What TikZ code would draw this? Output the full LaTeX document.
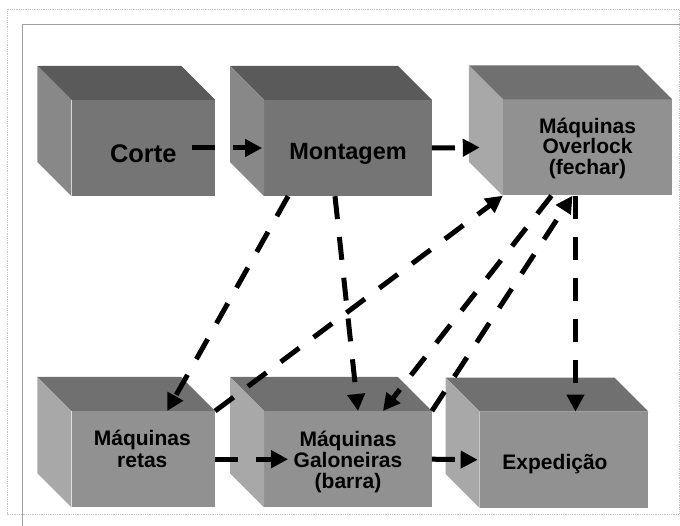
\documentclass[tikz,border=0pt]{standalone}
\usepackage{fontspec}
\setmainfont{Liberation Sans}
\usetikzlibrary{arrows.meta}
\definecolor{esctopo}{HTML}{5A5A5A}
\definecolor{esclado}{HTML}{888888}
\definecolor{escfrente}{HTML}{757575}
\definecolor{clatopo}{HTML}{707070}
\definecolor{clalado}{HTML}{A8A8A8}
\definecolor{clafrente}{HTML}{919191}
\tikzset{>=Triangle,
  frente/.style={inner sep=0pt,minimum height=96pt},
  rotulo/.style={font=\bfseries,align=center,anchor=base},
  fluxo/.style={line width=5pt,dash pattern=on 23pt off 18pt,-{Triangle[length=17pt,width=17pt]}}}
% caixa 3D: nome, x, y, largura, tom
\newcommand{\caixa}[5]{%
  \node[frente,fill=#5frente,minimum width=#4pt] (#1) at (#2,#3) {};
  \fill[#5topo] (#1.north west) -- ++(-34,-34) -- ([shift={(-34,-34)}]#1.north east) -- (#1.north east) -- cycle;
  \fill[#5lado] (#1.north west) -- ++(-34,-34) -- ([shift={(-34,-34)}]#1.south west) -- (#1.south west) -- cycle;
}

\begin{document}
\begin{tikzpicture}[x=1pt,y=-1pt]
    \useasboundingbox (0,0) rectangle (680,526);
    \draw [gray!45,densely dotted,line width=0.8pt] (7,9.5) rectangle (679,514);
    \draw [gray!75,line width=1pt] (22.7,530) -- (22.7,25) -- (685,25);
    % caixas
    \caixa{corte}{143.3}{148}{143.3}{esc}
    \caixa{montagem}{348}{148}{167.4}{esc}
    \caixa{overlock}{587.5}{147.5}{169}{cla}
    \caixa{retas}{143.3}{459.2}{143.3}{cla}
    \caixa{galoneiras}{348}{459.2}{167.4}{cla}
    \caixa{expedicao}{564}{459.8}{168.3}{cla}
    % textos
    \node [rotulo,font=\bfseries\fontsize{25.5}{26}\selectfont] (tcorte) at ([yshift=-14.5pt]corte.center) {Corte};
    \node [rotulo,font=\bfseries\fontsize{23.5}{24}\selectfont] (tmontagem) at ([yshift=-12pt]montagem.center) {Montagem};
    \node [rotulo,font=\bfseries\fontsize{21}{20.5}\selectfont] (toverlock) at ([yshift=-27pt]overlock.center) {Máquinas\\Overlock\\(fechar)};
    \node [rotulo,font=\bfseries\fontsize{21}{21.5}\selectfont] (tretas) at ([shift={(-1pt,-8pt)}]retas.center) {Máquinas\\retas};
    \node [rotulo,font=\bfseries\fontsize{21}{21}\selectfont] (tgaloneiras) at ([yshift=-29pt]galoneiras.center) {Máquinas\\Galoneiras\\(barra)};
    \node [rotulo,font=\bfseries\fontsize{21}{21}\selectfont] (texpedicao) at ([shift={(-9pt,-9.5pt)}]expedicao.center) {Expedição};
    % fluxos
    \draw [fluxo] ([xshift=-23pt]corte.east) -- ([xshift=-2pt]montagem.west);
    \draw [fluxo] (montagem.east) -- ([xshift=-23pt]overlock.west);
    \draw [fluxo] ([xshift=24pt]montagem.south west) -- ([xshift=-48pt]retas.north east);
    \draw [fluxo] ([xshift=-13pt]montagem.south) -- ([xshift=10pt]galoneiras.north);
    \draw [fluxo] (retas.north east) -- (overlock.south west);
    \draw [fluxo] ([xshift=-36pt]overlock.south) -- ([xshift=35pt]galoneiras.north);
    \draw [fluxo] (galoneiras.north east) -- ([xshift=-15pt]overlock.south);
    \draw [fluxo] ([xshift=-12pt]overlock.south) -- ([xshift=-12pt]overlock.south |- expedicao.north);
    \draw [fluxo] (retas.east) -- ([xshift=24pt]galoneiras.west);
    \draw [fluxo] (galoneiras.east) -- ([xshift=-2pt]expedicao.west);
  \end{tikzpicture}
\end{document}
